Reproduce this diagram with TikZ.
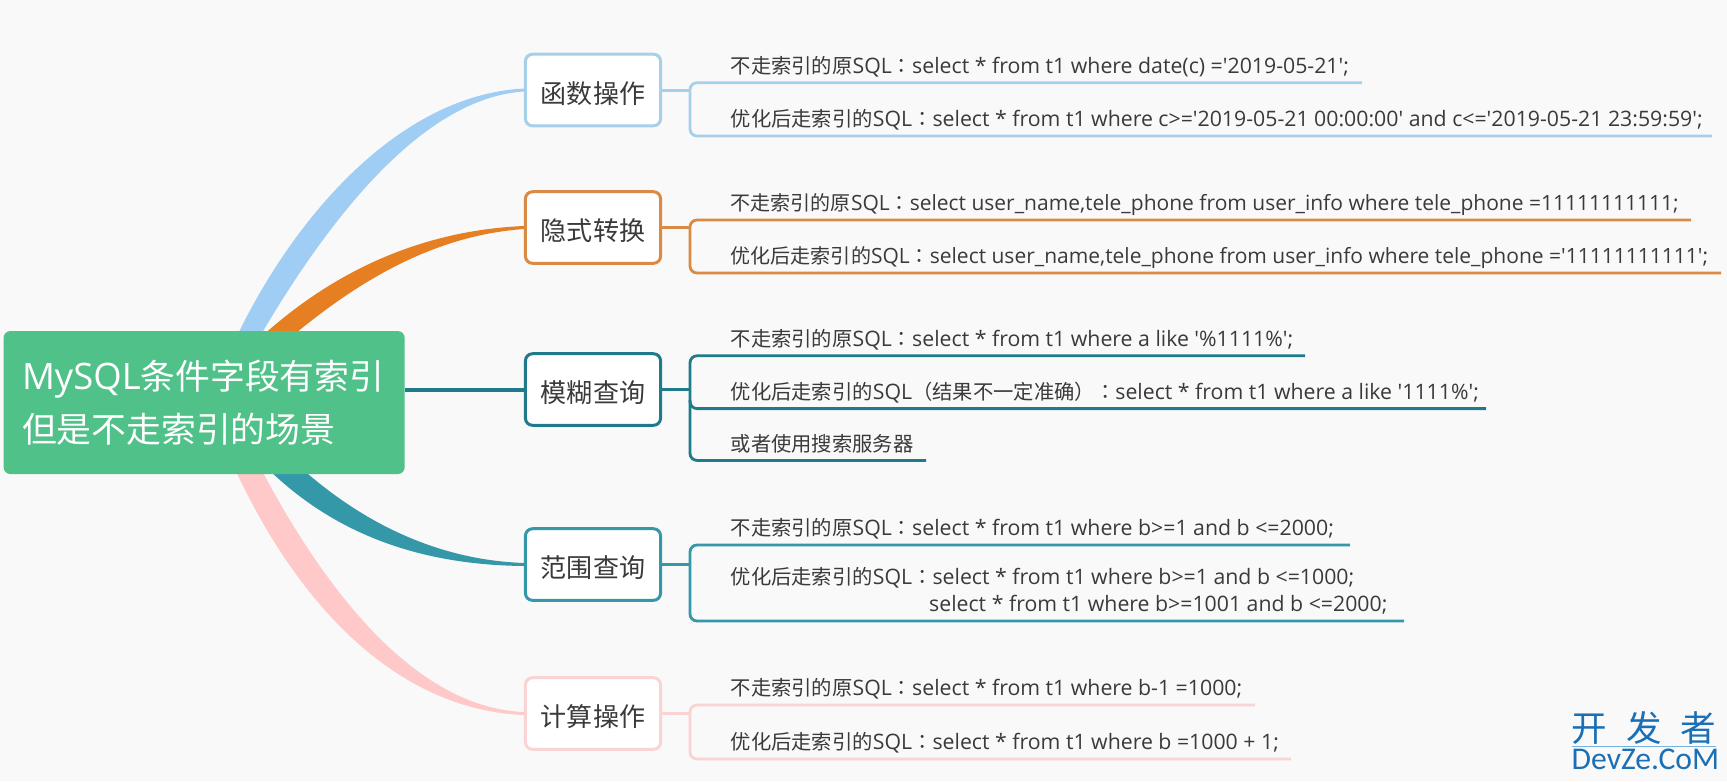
\documentclass[tikz,border=0pt]{standalone}
\usepackage{fontspec}
\newfontfamily\latfont{Open Sans}
\newfontfamily\cjkfont[Scale=0.955]{Noto Sans CJK SC}
\newfontfamily\cjktc[Scale=0.955]{Noto Sans CJK TC}
\newfontfamily\logofont{Carlito}
\newcommand{\cn}[1]{{\cjkfont #1}}
\newcommand{\dvo}{{\cjktc ：}}
\usepackage{tikz}
\usetikzlibrary{calc}
\definecolor{pozadina}{HTML}{F9F9F9}
\definecolor{zelena}{HTML}{50C189}
\definecolor{tekst}{HTML}{3A3A3A}
\definecolor{plava}{HTML}{9FCDF3}
\definecolor{plavab}{HTML}{A6CFEA}
\definecolor{narandza}{HTML}{E67E22}
\definecolor{narandzab}{HTML}{D98A44}
\definecolor{tirkiz}{HTML}{1F7A8C}
\definecolor{more}{HTML}{3598A8}
\definecolor{roza}{HTML}{FFC9C9}
\definecolor{rozab}{HTML}{FAD4D4}
\definecolor{logo}{HTML}{1A6FB5}
\tikzset{topic/.style={draw, line width=0.03cm, rounded corners=0.07cm, fill=white,
    minimum width=1.35cm, minimum height=0.715cm, inner sep=0pt, text=tekst,
    text height=0.29cm, text depth=0.03cm,
    font=\cjkfont\fontsize{7.75}{9}\selectfont}}
\tikzset{leaf/.style={anchor=base west, inner sep=0pt, text=tekst,
    font=\latfont\fontsize{6.05}{7}\selectfont}}
\tikzset{leafuzi/.style={leaf, font=\latfont\fontsize{5.97}{7}\selectfont}}
\tikzset{rail/.style={line width=0.028cm, rounded corners=0.07cm}}
\tikzset{stem/.style={line width=0.03cm}}

\begin{document}
\begin{tikzpicture}[x=0.01cm, y=-0.01cm]
    %pozadina
    \fill[pozadina] (0, 0) rectangle (1727, 781);
    \useasboundingbox (0, 0) rectangle (1727, 781);

    %teme
    \node[topic, draw=plavab] (t1) at (593, 90) {函数操作};
    \node[topic, draw=narandzab] (t2) at (593, 227.5) {隐式转换};
    \node[topic, draw=tirkiz] (t3) at (593, 389.5) {模糊查询};
    \node[topic, draw=more] (t4) at (593, 564.5) {范围查询};
    \node[topic, draw=rozab] (t5) at (593, 713.5) {计算操作};

    %grane
    \fill[plava] (236, 338) ..controls (295, 215) and (400, 95) .. ($(t1.west)+(0, -1.5)$)
        -- ($(t1.west)+(0, 1.5)$) ..controls (420, 98) and (325, 225) .. (259, 338) -- cycle;
    \fill[narandza] (260, 338) ..controls (340, 265) and (430, 230) .. ($(t2.west)+(0, -1.5)$)
        -- ($(t2.west)+(0, 1.5)$) ..controls (440, 235) and (365, 275) .. (290, 338) -- cycle;
    \fill[more] (266, 467) ..controls (340, 540) and (430, 565) .. ($(t4.west)+(0, 1.5)$)
        -- ($(t4.west)+(0, -1.5)$) ..controls (440, 560) and (365, 525) .. (300, 467) -- cycle;
    \fill[roza] (234, 467) ..controls (300, 610) and (400, 710) .. ($(t5.west)+(0, 1.5)$)
        -- ($(t5.west)+(0, -1.5)$) ..controls (420, 708) and (330, 600) .. (260, 467) -- cycle;

    %centar
    \node[fill=zelena, rounded corners=0.07cm, text=white, anchor=north west, minimum height=1.43cm,
        text width=3.64cm, inner xsep=0.185cm, inner ysep=0pt, outer sep=0pt, align=left,
        font=\latfont\fontsize{10.37}{15}\selectfont] (root) at (3.5, 331)
        {MySQL\cn{条件字段有索引}\\\cn{但是不走索引的场景}};
    \draw[tirkiz, line width=0.04cm] (t3.west -| root.east) -- (t3.west);

    %tekstovi #1
    \node[leaf] (l1a) at (730, 73.2) {\cn{不走索引的原}SQL\dvo select * from t1 where date(c) ='2019-05-21';};
    \node[leaf] (l1b) at (730, 126.5) {\cn{优化后走索引的}SQL\dvo select * from t1 where c>='2019-05-21 00:00:00' and c<='2019-05-21 23:59:59';};
    %tekstovi #2
    \node[leafuzi] (l2a) at (730, 210.5) {\cn{不走索引的原}SQL\dvo select user\_name,tele\_phone from user\_info where tele\_phone =11111111111;};
    \node[leafuzi] (l2b) at (730, 263.5) {\cn{优化后走索引的}SQL\dvo select user\_name,tele\_phone from user\_info where tele\_phone ='11111111111';};
    %tekstovi #3
    \node[leaf] (l3a) at (730, 346.3) {\cn{不走索引的原}SQL\dvo select * from t1 where a like '\%1111\%';};
    \node[leaf] (l3b) at (730, 399.1) {\cn{优化后走索引的}SQL\cn{（结果不一定准确）}\dvo select * from t1 where a like '1111\%';};
    \node[leaf] (l3c) at (730, 451) {\cn{或者使用搜索服务器}};
    %tekstovi #4
    \node[leaf] (l4a) at (730, 535.5) {\cn{不走索引的原}SQL\dvo select * from t1 where b>=1 and b <=2000;};
    \node[leaf] (l4b) at (730, 584) {\cn{优化后走索引的}SQL\dvo select * from t1 where b>=1 and b <=1000;};
    \node[leaf] (l4c) at (928.5, 611.5) {select * from t1 where b>=1001 and b <=2000;};
    %tekstovi #5
    \node[leaf] (l5a) at (730, 695.5) {\cn{不走索引的原}SQL\dvo select * from t1 where b-1 =1000;};
    \node[leaf] (l5b) at (730, 749.5) {\cn{优化后走索引的}SQL\dvo select * from t1 where b =1000 + 1;};

    %linije #1
    \coordinate (e1a) at (1362, 82.7);
    \coordinate (e1b) at (1712, 136);
    \draw[rail, plavab] (e1a) -- (690, 82.7) -- (690, 136) -- (e1b);
    \draw[stem, plavab] (t1.east) -- (t1.east -| 690, 0);

    %linije #2
    \coordinate (e2a) at (1691, 220);
    \coordinate (e2b) at (1721, 273);
    \draw[rail, narandzab] (e2a) -- (690, 220) -- (690, 273) -- (e2b);
    \draw[stem, narandzab] (t2.east) -- (t2.east -| 690, 0);

    %linije #3
    \coordinate (e3a) at (1305, 355.8);
    \coordinate (e3b) at (1486, 408.6);
    \coordinate (e3c) at (926, 460.4);
    \draw[rail, tirkiz] (e3a) -- (690, 355.8) -- (690, 460.4) -- (e3c);
    \draw[rail, tirkiz] (690, 400) -- (690, 408.6) -- (e3b);
    \draw[stem, tirkiz] (t3.east) -- (t3.east -| 690, 0);

    %linije #4
    \coordinate (e4a) at (1350, 545);
    \coordinate (e4b) at (1404, 621);
    \draw[rail, more] (e4a) -- (690, 545) -- (690, 621) -- (e4b);
    \draw[stem, more] (t4.east) -- (t4.east -| 690, 0);

    %linije #5
    \coordinate (e5a) at (1255, 705);
    \coordinate (e5b) at (1291, 759);
    \draw[rail, rozab] (e5a) -- (690, 705) -- (690, 759) -- (e5b);
    \draw[stem, rozab] (t5.east) -- (t5.east -| 690, 0);

    %znak
    \node[text=logo, inner sep=0pt, anchor=base west, font=\cjkfont\fontsize{10.58}{12}\selectfont] (znak1)
        at (1571, 741) {开\hspace{0.19cm}发\hspace{0.19cm}者};
    \draw[plava!70!logo, line width=0.01cm] (1572, 746.7) -- (1716, 746.7);
    \node[text=logo, inner sep=0pt, anchor=base west, font=\logofont\fontsize{9}{10}\selectfont] (znak2)
        at (1571, 769) {DevZe.CoM};
\end{tikzpicture}
\end{document}
